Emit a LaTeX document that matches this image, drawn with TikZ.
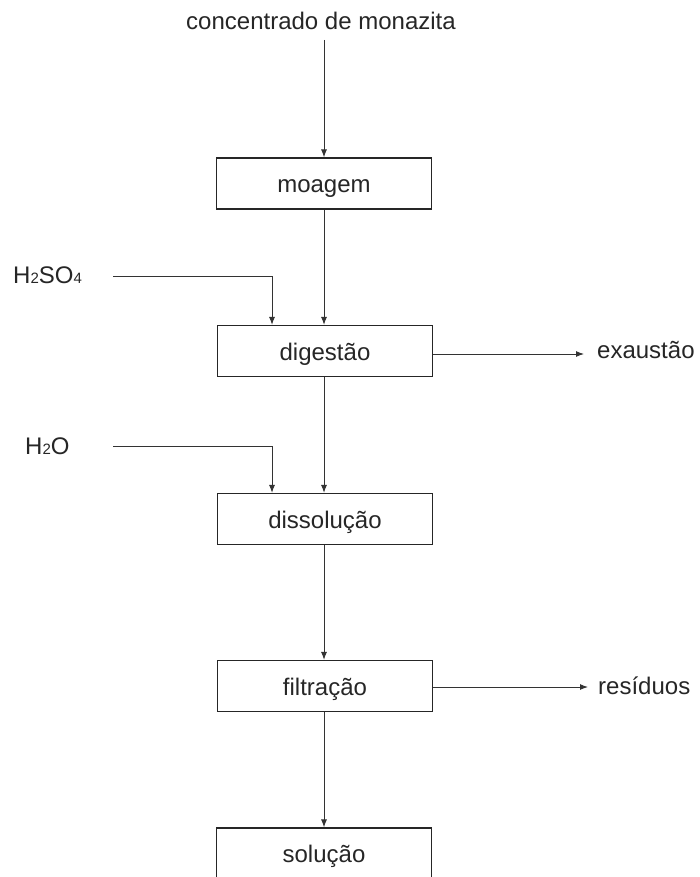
\documentclass[tikz,border=0pt]{standalone}
\usepackage{fontspec}
\setmainfont{Liberation Sans}
\usetikzlibrary{arrows.meta}
\newcommand{\sbs}[1]{{\fontsize{15}{15}\selectfont #1}}
\begin{document}
\begin{tikzpicture}[x=1pt,y=1pt,
  font=\fontsize{24}{28}\selectfont,
  txt/.style={inner sep=0pt, text=black!85},
  proc/.style={draw=black!85, line width=1.1pt, minimum width=215pt, minimum height=51pt, inner sep=0pt, text height=20pt, text depth=2pt, text=black!85},
  flow/.style={draw=black!80, line width=1pt, -{Latex[length=8pt,width=6pt]}}
]
\useasboundingbox (0,0) rectangle (699,-877);
\node[txt, anchor=base] (conc) at (321,-30) {concentrado de monazita};
\node[proc] (moa) at (324,-183.5) {moagem};
\node[proc] (dig) at (325,-351) {digestão};
\node[proc] (dis) at (325,-519) {dissolução};
\node[proc] (fil) at (325,-686) {filtração};
\node[proc] (sol) at (324,-853.5) {solução};
\node[txt, anchor=base west] (acid) at (13,-283) {H\sbs{2}SO\sbs{4}};
\node[txt, anchor=base west] (agua) at (25,-454) {H\sbs{2}O};
\node[txt, anchor=base west] (exa) at (597,-358) {exaustão};
\node[txt, anchor=base west] (res) at (598,-694) {resíduos};
\coordinate (a1) at (113,-276);
\coordinate (a2) at (113,-446);
\coordinate (e1) at (584,-354);
\coordinate (r1) at (588,-687);
\coordinate (c1) at (324,-40);
\draw[flow] (c1) -- (moa.north);
\draw[flow] (moa.south) -- (moa.south |- dig.north);
\draw[flow] (dig.south -| moa.south) -- (moa.south |- dis.north);
\draw[flow] (dis.south -| moa.south) -- (moa.south |- fil.north);
\draw[flow] (fil.south -| moa.south) -- (sol.north);
\draw[flow] (a1) -| ([xshift=-52pt]moa.south |- dig.north);
\draw[flow] (a2) -| ([xshift=-52pt]moa.south |- dis.north);
\draw[flow] (dig.east |- e1) -- (e1);
\draw[flow] (fil.east |- r1) -- (r1);
\end{tikzpicture}
\end{document}
